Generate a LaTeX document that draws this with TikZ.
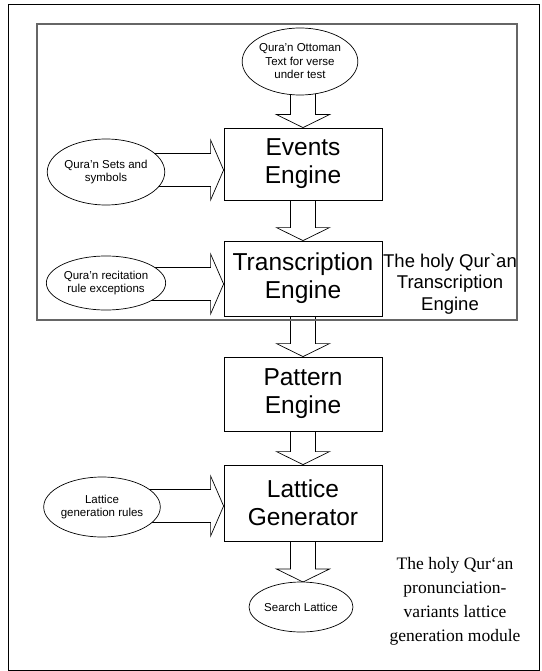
\documentclass[tikz,border=0pt]{standalone}
\usepackage{fontspec}
\setmainfont{Liberation Sans}
\newfontfamily\serifface{Liberation Serif}
\usetikzlibrary{shapes.geometric,calc}
\pgfdeclarelayer{bg}
\pgfsetlayers{bg,main}
\tikzset{
  engbox/.style={draw=black,line width=0.8pt,fill=white,minimum width=158pt,inner sep=0pt,align=center,font=\fontsize{24.5}{28}\selectfont},
  src/.style={draw=black,line width=0.7pt,fill=white,ellipse,inner sep=0pt,align=center,font=\fontsize{11.5}{13.5}\selectfont},
  blk/.style={draw=black,line width=0.7pt,fill=white,line join=miter},
}
\newcommand\blockdown[2]{%
  \path[blk] ($(#1.center -| #2.north)+(-12.5pt,0)$) -- ($(#2.north)+(-12.5pt,13pt)$) -- ($(#2.north)+(-26.5pt,13pt)$) -- (#2.north) -- ($(#2.north)+(26.5pt,13pt)$) -- ($(#2.north)+(12.5pt,13pt)$) -- ($(#1.center -| #2.north)+(12.5pt,0)$);}
\newcommand\blockright[2]{%
  \path[blk] ($(#1.center)+(0,16.5pt)$) -- ($(#2.west |- #1.center)+(-13pt,16.5pt)$) -- ($(#2.west |- #1.center)+(-13pt,30pt)$) -- (#2.west |- #1.center) -- ($(#2.west |- #1.center)+(-13pt,-30pt)$) -- ($(#2.west |- #1.center)+(-13pt,-16.5pt)$) -- ($(#1.center)+(0,-16.5pt)$);}
\begin{document}
\begin{tikzpicture}[x=1pt,y=-1pt]
\useasboundingbox (0,0) rectangle (541,671);
% frames
\draw[black,line width=0.9pt] (8,4) rectangle (539.5,670);
\draw[black!60,line width=1.3pt] (37,24) rectangle (517,320);
% engine boxes
\node[engbox,minimum height=72pt] (ev) at (303,164) {Events\\Engine};
\node[engbox,minimum height=75pt] (tr) at (303,278.5) {Transcription\\Engine};
\node[engbox,minimum height=74pt] (pa) at (303,394) {Pattern\\Engine};
\node[engbox,minimum height=76pt] (la) at (303,503) {Lattice\\Generator};
% ellipses
\node[src,minimum width=92pt,minimum height=67pt] (ot) at (300,61.5) {Qura’n Ottoman\\Text for verse\\under test};
\node[src,minimum width=100pt,minimum height=66pt] (set) at (106,172) {Qura’n Sets and\\symbols};
\node[src,minimum width=98pt,minimum height=54pt] (rec) at (106,283) {Qura’n recitation\\rule exceptions};
\node[src,minimum width=106pt,minimum height=60pt] (lat) at (102,507) {Lattice\\generation rules};
\node[src,minimum width=98pt,minimum height=50pt] (sl) at (301,607) {Search Lattice};
% block arrows (behind the nodes)
\begin{pgfonlayer}{bg}
\fill[white] (0,0) rectangle (541,671);
\coordinate (otc) at (303,85);
\coordinate (setc) at (110,170);
\coordinate (recc) at (110,284);
\coordinate (latc) at (110,506);
\coordinate (slt) at (303,582);
\blockdown{otc}{ev}
\blockdown{ev}{tr}
\blockdown{tr}{pa}
\blockdown{pa}{la}
\blockright{setc}{ev}
\blockright{recc}{tr}
\blockright{latc}{la}
\path[blk] ($(la.south)+(-12.5pt,0)$) -- ($(slt)+(-12.5pt,13pt)$) -- ($(slt)+(-26.5pt,13pt)$) -- (slt) -- ($(slt)+(26.5pt,13pt)$) -- ($(slt)+(12.5pt,13pt)$) -- ($(la.south)+(12.5pt,0)$);
\end{pgfonlayer}
% labels
\node[align=center,inner sep=0pt,font=\fontsize{18.5}{21.5}\selectfont] (lbl1) at (450,284) {The holy Qur\textasciigrave an\\Transcription\\Engine};
\node[align=center,inner sep=0pt,font=\serifface\fontsize{17.5}{24}\selectfont] (lbl2) at (455,601) {The holy Qur‘an\\pronunciation-\\variants lattice\\generation module};
\end{tikzpicture}
\end{document}
